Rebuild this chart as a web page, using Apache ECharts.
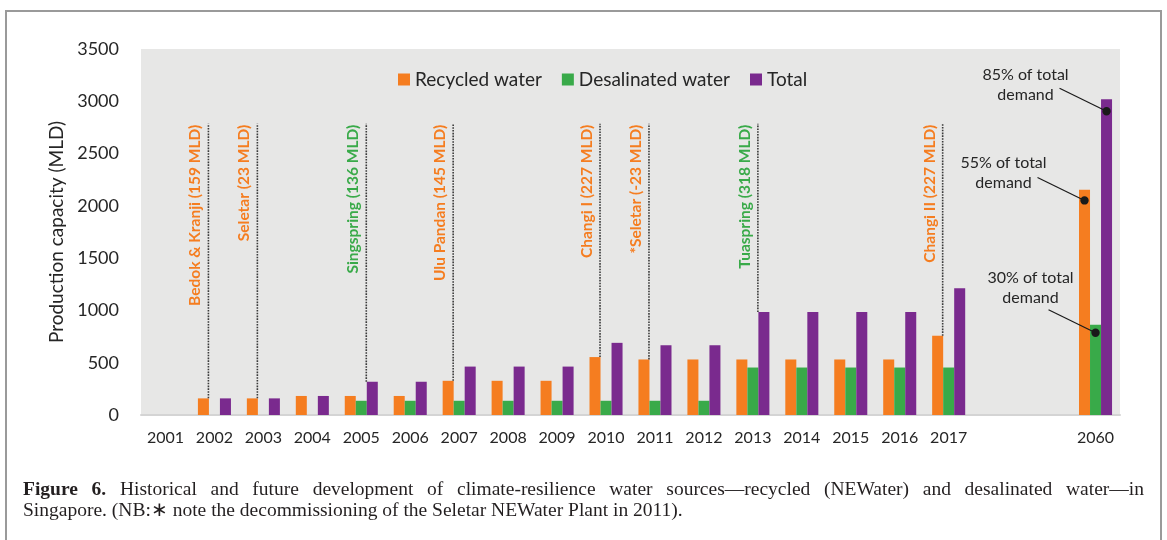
<!DOCTYPE html>
<html><head><meta charset="utf-8">
<script src="https://cdn.jsdelivr.net/npm/echarts@6/dist/echarts.min.js"></script>
<style>html,body{margin:0;padding:0;background:#fff}#c{width:1167px;height:540px}</style>
</head><body><div id="c"></div>
<script>
// ---------- data ----------
const categories = ['2001','2002','2003','2004','2005','2006','2007','2008','2009','2010','2011','2012','2013','2014','2015','2016','2017','','','2060'];
const recycled    = [0,159,159,182,182,182,327,327,327,554,531,531,531,531,531,531,758,null,null,2155];
const desalinated = [0,0,0,0,136,136,136,136,136,136,136,136,454,454,454,454,454,null,null,863];
const total       = [0,159,159,182,318,318,463,463,463,690,667,667,985,985,985,985,1212,null,null,3020];
const seriesNames = ['Recycled water','Desalinated water','Total'];
const yMin = 0, yMax = 3500, yInterval = 500;

// plant commissioning events: category, label, which source
const eventCats   = ['2002','2003','2005','2007','2010','2011','2013','2017'];
const eventLabels = ['Bedok & Kranji (159 MLD)','Seletar (23 MLD)','Singspring (136 MLD)','Ulu Pandan (145 MLD)','Changi I (227 MLD)','*Seletar (-23 MLD)','Tuaspring (318 MLD)','Changi II (227 MLD)'];
const eventSource = ['recycled','recycled','desal','recycled','recycled','recycled','desal','recycled'];
const eventTopValue = 2785;

// 2060 demand notes
const noteCat    = '2060';
const noteSeries = ['Total','Recycled water','Desalinated water'];
const noteValues = [2905, 2052, 786];
const noteLabels = ['85% of total\ndemand','55% of total\ndemand','30% of total\ndemand'];

const captionLine1 = 'Figure 6. Historical and future development of climate-resilience water sources\u2014recycled (NEWater) and desalinated water\u2014in';
const captionLine2 = 'Singapore. (NB:\u2217 note the decommissioning of the Seletar NEWater Plant in 2011).';

// ---------- styles / layout ----------
const COLORS = {recycled:'#F57D20', desal:'#39AA49', total:'#7A2A8E'};
const BAR_FRAC = 0.225;
const noteTextOffsets = [[-81,-26],[-81,-28],[-65,-45]];
const LEADER = [-47,-23];
const FONT = 'Lato';

const chart = echarts.init(document.getElementById('c'), null, {renderer:'canvas'});

const eventData = eventCats.map((c,i) => {
  const ci = categories.indexOf(c);
  const src = eventSource[i];
  const base = src === 'recycled' ? recycled[ci] : total[ci];
  return {value:[ci, base, eventTopValue, src === 'recycled' ? -1 : 1], label:eventLabels[i], src};
});
const noteData = noteSeries.map((s,i) => {
  const ci = categories.indexOf(noteCat);
  return {value:[ci, noteValues[i], seriesNames.indexOf(s) - 1], label:noteLabels[i], idx:i};
});

// caption words (justified first line)
const measure = (() => {
  const cv = document.createElement('canvas').getContext('2d');
  return (t, bold, size) => { cv.font = (bold ? 'bold ' : '') + size + 'px "Liberation Serif"'; return cv.measureText(t).width; };
})();
const CAP_SIZE = 19.5, CAP_X0 = 23, CAP_X1 = 1144, CAP_Y1 = 490, CAP_Y2 = 511;
const captionGraphics = [];
(function(){
  const w1 = captionLine1.split(' ');
  const widths = w1.map((w,i) => measure(w, i < 2, CAP_SIZE));
  const sum = widths.reduce((a,b)=>a+b,0);
  const gap = (CAP_X1 - CAP_X0 - sum) / (w1.length - 1);
  let x = CAP_X0;
  w1.forEach((w,i) => {
    captionGraphics.push({type:'text', x:x, y:CAP_Y1, style:{text:w, fill:'#231F20', font:(i<2?'bold ':'') + CAP_SIZE + 'px "Liberation Serif"', verticalAlign:'middle', align:'left'}});
    x += widths[i] + gap;
  });
  captionGraphics.push({type:'text', x:CAP_X0, y:CAP_Y2, style:{text:captionLine2, fill:'#231F20', font:CAP_SIZE + 'px "Liberation Serif"', verticalAlign:'middle', align:'left'}});
})();

const option = {
  animation:false,
  backgroundColor:'#ffffff',
  textStyle:{fontFamily:FONT},
  grid:{left:141, right:47, top:49, bottom:125, show:true, backgroundColor:'#E7E7E6', borderWidth:0},
  legend:{
    data:seriesNames, left:393, top:65, icon:'rect', itemWidth:12, itemHeight:12, itemGap:20,
    textStyle:{fontSize:19, color:'#262626', fontFamily:FONT}
  },
  xAxis:{
    type:'category', data:categories,
    axisLine:{show:true, lineStyle:{color:'#D4D4D4', width:2}},
    axisTick:{show:false},
    axisLabel:{interval:0, fontSize:16, color:'#262626', margin:15, fontFamily:FONT}
  },
  yAxis:{
    type:'value', min:yMin, max:yMax, interval:yInterval,
    name:'Production capacity (MLD)', nameLocation:'middle', nameGap:67,
    nameTextStyle:{fontSize:19, color:'#262626', fontFamily:FONT},
    axisLine:{show:false}, axisTick:{show:false}, splitLine:{show:false},
    axisLabel:{fontSize:18, color:'#262626', margin:22, fontFamily:FONT, formatter:function(v){return String(v);}}
  },
  series:[
    {name:seriesNames[0], type:'bar', data:recycled, barWidth:(BAR_FRAC*100)+'%', barGap:'0%', itemStyle:{color:COLORS.recycled}},
    {name:seriesNames[1], type:'bar', data:desalinated, barWidth:(BAR_FRAC*100)+'%', barGap:'0%', itemStyle:{color:COLORS.desal}},
    {name:seriesNames[2], type:'bar', data:total, barWidth:(BAR_FRAC*100)+'%', barGap:'0%', itemStyle:{color:COLORS.total}},
    {
      type:'custom', name:'events', data:eventData, silent:true, z:5,
      renderItem:function(params, api){
        const d = eventData[params.dataIndex];
        const ci = api.value(0), base = api.value(1), top = api.value(2), side = api.value(3);
        const band = api.size([1,0])[0];
        const bw = band * BAR_FRAC;
        const pb = api.coord([ci, base]);
        const pt = api.coord([ci, top]);
        const x = pb[0] + side * bw / 2 - 0.5;
        return {type:'group', children:[
          {type:'line', shape:{x1:x, y1:pb[1], x2:x, y2:pt[1]}, style:{stroke:'#3A3A3A', lineWidth:1.6, lineDash:[1.6,1.2]}},
          {type:'text', x:x-13, y:pt[1]+1, rotation:Math.PI/2,
           style:{text:d.label, fill:d.src==='recycled'?COLORS.recycled:COLORS.desal, font:'bold 15.5px ' + FONT, align:'right', verticalAlign:'middle'}}
        ]};
      }
    },
    {
      type:'custom', name:'notes', data:noteData, silent:true, z:6,
      renderItem:function(params, api){
        const d = noteData[params.dataIndex];
        const ci = api.value(0), v = api.value(1), off = api.value(2);
        const band = api.size([1,0])[0];
        const bw = band * BAR_FRAC;
        const p = api.coord([ci, v]);
        const cx = p[0] + off * bw, cy = p[1];
        const to = noteTextOffsets[d.idx];
        return {type:'group', children:[
          {type:'line', shape:{x1:cx+LEADER[0], y1:cy+LEADER[1], x2:cx, y2:cy}, style:{stroke:'#1A1A1A', lineWidth:1.2}},
          {type:'circle', shape:{cx:cx, cy:cy, r:4.2}, style:{fill:'#1A1A1A'}},
          {type:'text', x:cx+to[0], y:cy+to[1], style:{text:d.label, fill:'#262626', font:'16px ' + FONT, align:'center', verticalAlign:'middle', lineHeight:20}}
        ]};
      }
    }
  ],
  graphic:[
    {type:'rect', shape:{x:6, y:11, width:1155, height:600}, style:{fill:'none', stroke:'#9A9A9A', lineWidth:2}, silent:true, z:100}
  ].concat(captionGraphics)
};
chart.setOption(option);
</script>
</body></html>
